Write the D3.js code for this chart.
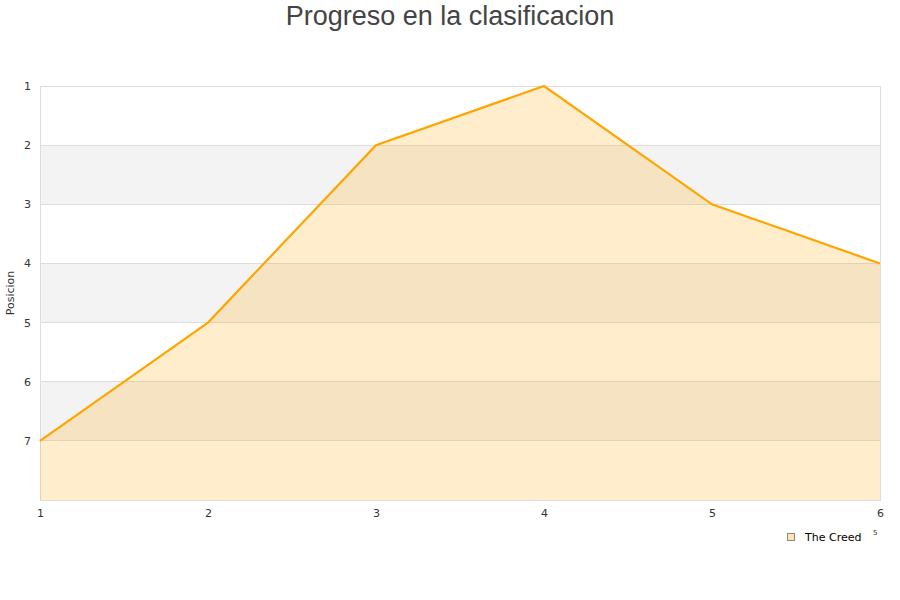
<!DOCTYPE html>
<html><head><meta charset="utf-8">
<script src="https://cdn.jsdelivr.net/npm/d3@7/dist/d3.min.js"></script>
<style>body{margin:0;background:#fff;} svg{display:block;font-family:"DejaVu Sans",Verdana,sans-serif;}</style>
</head><body>
<svg id="c" width="900" height="600"></svg>
<script>
const jornadas = [1, 2, 3, 4, 5, 6];
const posiciones = [7, 5, 2, 1, 3, 4];
const yTicks = [1, 2, 3, 4, 5, 6, 7];
const seriesName = "The Creed";
const title = "Progreso en la clasificacion";
const yTitle = "Posicion";

const svg = d3.select("#c");
const L = 40, R = 880, T = 86, B = 500;
const x = d3.scaleLinear().domain([1, 6]).range([L, R]);
const y = d3.scaleLinear().domain([1, 8]).range([T, B]);

// bands
const bands = d3.range(1, 8);
svg.append("g").selectAll("rect").data(bands).join("rect")
  .attr("x", L).attr("width", R - L)
  .attr("y", d => y(d)).attr("height", d => y(d + 1) - y(d))
  .attr("fill", d => d % 2 === 0 ? "#f3f3f3" : "#ffffff");

// grid
svg.append("g").selectAll("line").data(yTicks).join("line")
  .attr("x1", L).attr("x2", R).attr("y1", d => y(d)).attr("y2", d => y(d))
  .attr("stroke", "#dddddd").attr("stroke-width", 1).attr("shape-rendering", "crispEdges");

// border
svg.append("rect").attr("x", L).attr("y", T).attr("width", R - L).attr("height", B - T)
  .attr("fill", "none").attr("stroke", "#dddddd").attr("shape-rendering", "crispEdges");

const data = jornadas.map((j, i) => ({ j, p: posiciones[i] }));
const area = d3.area().x(d => x(d.j)).y0(y(8)).y1(d => y(d.p));
svg.append("path").datum(data).attr("d", area)
  .attr("fill", "#ffa500").attr("fill-opacity", 0.2);
const line = d3.line().x(d => x(d.j)).y(d => y(d.p));
svg.append("path").datum(data).attr("d", line)
  .attr("fill", "none").attr("stroke", "#ffa500").attr("stroke-width", 2.2);

// y axis labels
const yAxis = d3.axisLeft(y).tickValues(yTicks).tickFormat(d3.format("d")).tickSize(0).tickPadding(6);
const gy = svg.append("g").attr("transform", `translate(${L - 3},0)`).call(yAxis);
gy.select(".domain").remove();
gy.selectAll("text").attr("font-size", 11).attr("fill", "#333").attr("font-family", "DejaVu Sans, sans-serif");

// x axis labels
const xAxis = d3.axisBottom(x).tickValues(jornadas).tickFormat(d3.format("d")).tickSize(0).tickPadding(9);
const gx = svg.append("g").attr("transform", `translate(0,${B})`).call(xAxis);
gx.select(".domain").remove();
gx.selectAll("text").attr("font-size", 11).attr("fill", "#333").attr("font-family", "DejaVu Sans, sans-serif");

// title
svg.append("text").attr("x", 450).attr("y", 25).attr("text-anchor", "middle")
  .attr("font-size", 27).attr("fill", "#444").attr("font-family", "Liberation Sans, Arial, sans-serif").text(title);

// y title
svg.append("text").attr("transform", "translate(14,293) rotate(-90)").attr("text-anchor", "middle")
  .attr("font-size", 11).attr("fill", "#333").text(yTitle);

// legend
svg.append("rect").attr("x", 787.5).attr("y", 533.5).attr("width", 7).attr("height", 7)
  .attr("fill", "#ffe4b3").attr("stroke", "#888").attr("stroke-width", 1);
svg.append("text").attr("x", 805).attr("y", 541).attr("font-size", 11).attr("fill", "#000").text(seriesName);
svg.append("text").attr("x", 873).attr("y", 535).attr("font-size", 7).attr("fill", "#333").text("5");
</script>
</body></html>
